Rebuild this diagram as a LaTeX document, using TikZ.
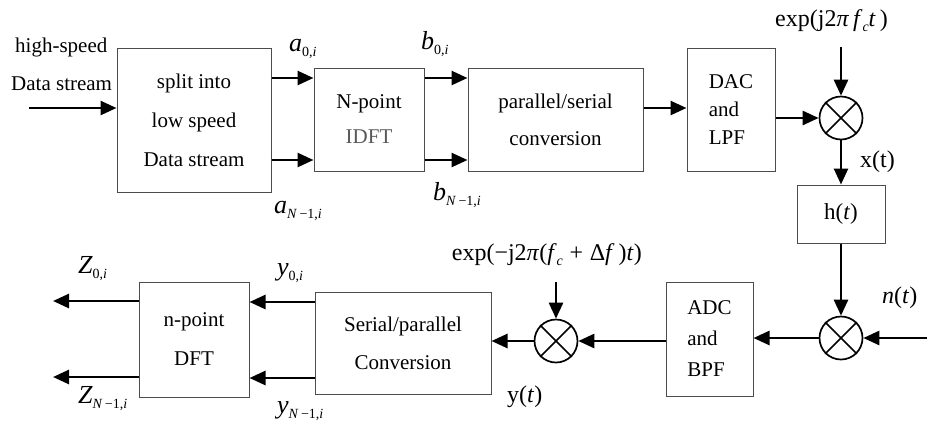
\documentclass[tikz,border=0pt]{standalone}
\usepackage{fontspec}
\setmainfont{Liberation Serif}
\usetikzlibrary{arrows.meta}
% italic symbol with a small subscript
\newcommand{\vsym}[2]{{\fontsize{26}{26}\selectfont\itshape #1}\raisebox{-5pt}{\fontsize{14}{14}\selectfont #2}}
\newcommand{\sbi}{\textit{i}}
\newcommand{\subc}{\raisebox{-5pt}{\fontsize{14}{14}\selectfont\textit{c}}}
\begin{document}
\begin{tikzpicture}[x=1pt,y=-1pt,
  box/.style={draw=black!70, line width=1pt, rectangle, inner sep=0pt},
  mix/.style={draw, circle, line width=1.7pt, minimum size=43pt, inner sep=0pt},
  sig/.style={line width=2.6pt, -{Triangle[length=16pt,width=14pt]}},
  lab/.style={inner sep=0pt, anchor=base west, font=\fontsize{21}{21}\selectfont},
  big/.style={font=\fontsize{24}{24}\selectfont}]
\useasboundingbox (0,0) rectangle (927,432);

% ---------- transmitter blocks ----------
\node[box, minimum width=154pt, minimum height=144pt, align=center,
      font=\fontsize{21}{39}\selectfont] (split) at (194,120)
      {split into\\low speed\\Data stream};
\node[box, minimum width=110pt, minimum height=103pt, align=center,
      font=\fontsize{21}{35}\selectfont] (idft) at (369,119.5)
      {N-point\\\textcolor{black!65}{IDFT}};
\node[box, minimum width=175pt, minimum height=103pt, align=center,
      font=\fontsize{21}{37}\selectfont] (ps) at (555.5,119.5)
      {parallel/serial\\conversion};
\node[box, minimum width=88pt, minimum height=123pt, align=left,
      font=\fontsize{21}{28}\selectfont] (dac) at (731,109.5)
      {DAC\\and\\LPF};
\node[mix] (m1) at (841,118) {};
\node[box, minimum width=88pt, minimum height=58pt,
      font=\fontsize{23}{23}\selectfont] (hb) at (841,214) {h(\textit{t})};

% ---------- receiver blocks ----------
\node[mix] (m2) at (841,338) {};
\node[box, minimum width=87pt, minimum height=114pt, align=left,
      font=\fontsize{21}{31}\selectfont] (adc) at (709.5,339)
      {ADC\\and\\BPF};
\node[mix] (m3) at (556,341) {};
\node[box, minimum width=176pt, minimum height=102pt, align=center,
      font=\fontsize{21}{38}\selectfont] (sp) at (403,343)
      {Serial/parallel\\Conversion};
\node[box, minimum width=110pt, minimum height=115pt, align=center,
      font=\fontsize{21}{39}\selectfont] (dft) at (194,339.5)
      {n-point\\DFT};

% mixer crosses
\foreach \m in {m1,m2,m3}{
  \draw[line width=1.7pt] (\m.north east) -- (\m.south west)
                          (\m.north west) -- (\m.south east);
}

% ---------- labels ----------
\node[lab] (hs) at (15,52) {high-speed};
\node[lab] (ds) at (11,90) {Data stream};
\node[lab] (a0) at (289,51) {\vsym{a}{0,\sbi}};
\node[lab] (an) at (274,213) {\vsym{a}{\textit{N}\,−1,\sbi}};
\node[lab] (b0) at (421,49) {\vsym{b}{0,\sbi}};
\node[lab] (bn) at (433,200) {\vsym{b}{\textit{N}\,−1,\sbi}};
\node[lab, big] (e1l) at (775,26)
  {exp(j2\textit{π}\,\textit{f}\subc\textit{t}\,)};
\node[lab, big] (xt) at (860,167) {x(t)};
\node[lab, big] (nt) at (882,303) {\textit{n}(\textit{t})};
\node[lab, big, anchor=base east] (e2l) at (642,260)
  {exp(−j2\textit{π}(\textit{f}\subc\;+\;Δ\textit{f}\,)\textit{t})};
\node[lab, big] (yt) at (507,402) {y(\textit{t})};
\node[lab] (z0) at (78,273) {\vsym{Z}{0,\sbi}};
\node[lab] (zn) at (78,403) {\vsym{Z}{\textit{N}\,−1,\sbi}};
\node[lab] (y0) at (277,275) {\vsym{y}{0,\sbi}};
\node[lab] (yn) at (277,413) {\vsym{y}{\textit{N}\,−1,\sbi}};

% ---------- connectors ----------
\coordinate (in1) at (29,108);
\coordinate (ya) at (0,78);
\coordinate (yb) at (0,160);
\coordinate (yc) at (0,108);
\coordinate (lo1) at (841,47);
\coordinate (nin) at (927,338);
\coordinate (lo2) at (556,282);
\coordinate (yd) at (0,302);
\coordinate (ye) at (0,378);
\coordinate (out0) at (53,301);
\coordinate (out1) at (53,377);

\draw[sig] (in1) -- (in1 -| split.west);
\draw[sig] (split.east |- ya) -- (idft.west |- ya);
\draw[sig] (split.east |- yb) -- (idft.west |- yb);
\draw[sig] (idft.east |- ya) -- (ps.west |- ya);
\draw[sig] (idft.east |- yb) -- (ps.west |- yb);
\draw[sig] (ps.east |- yc) -- (dac.west |- yc);
\draw[sig] (dac.east |- m1) -- (m1.west);
\draw[sig] (lo1) -- (m1.north);
\draw[sig] (m1.south) -- (hb.north);
\draw[sig] (hb.south) -- (m2.north);
\draw[sig] (nin) -- (m2.east);
\draw[sig] (m2.west) -- (adc.east |- m2);
\draw[sig] (adc.west |- m3) -- (m3.east);
\draw[sig] (lo2) -- (m3.north);
\draw[sig] (m3.west) -- (sp.east |- m3);
\draw[sig] (sp.west |- yd) -- (dft.east |- yd);
\draw[sig] (sp.west |- ye) -- (dft.east |- ye);
\draw[sig] (dft.west |- out0) -- (out0);
\draw[sig] (dft.west |- out1) -- (out1);
\end{tikzpicture}
\end{document}
